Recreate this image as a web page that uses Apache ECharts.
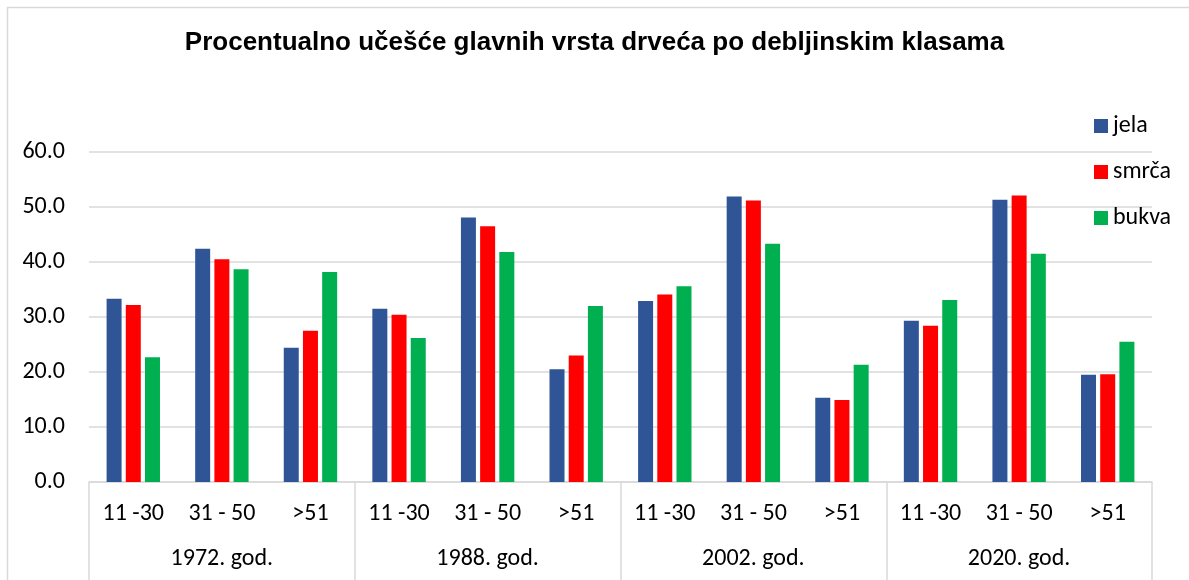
<!DOCTYPE html>
<html>
<head>
<meta charset="utf-8">
<style>
  html, body { margin: 0; padding: 0; background: #fff; }
  #chart { width: 1189px; height: 580px; }
</style>
<script src="https://cdn.jsdelivr.net/npm/echarts@6/dist/echarts.min.js"></script>
</head>
<body>
<div id="chart"></div>
<script>
// Diameter classes per survey year and the share (%) of each species
const years = ['1972. god.', '1988. god.', '2002. god.', '2020. god.'];
const classes = ['11 -30', '31 - 50', '>51'];
const categories = [];
years.forEach(function () { classes.forEach(function (c) { categories.push(c); }); });

const jela  = [33.3, 42.4, 24.4,  31.5, 48.1, 20.5,  32.9, 51.9, 15.3,  29.3, 51.3, 19.5];
const smrca = [32.2, 40.5, 27.5,  30.4, 46.5, 23.0,  34.1, 51.2, 14.9,  28.4, 52.1, 19.6];
const bukva = [22.7, 38.7, 38.2,  26.2, 41.8, 32.0,  35.6, 43.3, 21.3,  33.1, 41.5, 25.5];

const yTicks = [0, 10, 20, 30, 40, 50, 60];

const FONT = "Carlito, 'Noto Sans', sans-serif";
const GRID_COLOR = '#d9d9d9';

const chart = echarts.init(document.getElementById('chart'));

chart.setOption({
  backgroundColor: '#fff',
  animation: false,
  title: {
    text: 'Procentualno učešće glavnih vrsta drveća po debljinskim klasama',
    left: 'center',
    top: 30,
    padding: 0,
    textStyle: {
      fontFamily: "'Liberation Sans', Arial, sans-serif",
      fontWeight: 'bold',
      fontSize: 26,
      color: '#000'
    }
  },
  legend: {
    orient: 'vertical',
    left: 1094,
    top: 114,
    padding: 0,
    itemWidth: 14,
    itemHeight: 14,
    itemGap: 22,
    icon: 'rect',
    textStyle: { fontFamily: FONT, fontSize: 24, color: '#000', padding: [0, 0, 0, 0] },
    data: ['jela', 'smrča', 'bukva']
  },
  graphic: [{
    type: 'rect',
    shape: { x: 7.5, y: 7.5, width: 1250, height: 650 },
    style: { fill: 'none', stroke: GRID_COLOR, lineWidth: 1.5 },
    silent: true
  }],
  grid: { left: 89, right: 37, top: 152, bottom: 98, containLabel: false },
  xAxis: [{
    type: 'category',
    data: categories,
    position: 'bottom',
    axisLine: { show: true, lineStyle: { color: GRID_COLOR, width: 1.5 } },
    axisTick: { show: false },
    axisLabel: {
      interval: 0,
      margin: 20,
      fontFamily: FONT,
      fontSize: 24,
      color: '#000'
    }
  }, {
    type: 'category',
    data: years,
    position: 'bottom',
    axisLine: { show: false },
    axisTick: {
      show: true,
      inside: false,
      length: 110,
      lineStyle: { color: GRID_COLOR, width: 1.5 }
    },
    axisLabel: {
      interval: 0,
      margin: 65,
      fontFamily: FONT,
      fontSize: 24,
      color: '#000'
    }
  }],
  yAxis: {
    type: 'value',
    min: yTicks[0],
    max: yTicks[yTicks.length - 1],
    interval: 10,
    axisLine: { show: false },
    axisTick: { show: false },
    splitLine: { lineStyle: { color: GRID_COLOR, width: 1.5 } },
    axisLabel: {
      margin: 24,
      fontFamily: FONT,
      fontSize: 24,
      color: '#000',
      formatter: function (v) { return v.toFixed(1); }
    }
  },
  series: [
    { name: 'jela',  type: 'bar', data: jela,  barWidth: 15, barGap: '28%', itemStyle: { color: '#2F5597' } },
    { name: 'smrča', type: 'bar', data: smrca, barWidth: 15, barGap: '28%', itemStyle: { color: '#FF0000' } },
    { name: 'bukva', type: 'bar', data: bukva, barWidth: 15, barGap: '28%', itemStyle: { color: '#00B050' } }
  ]
});
</script>
</body>
</html>
